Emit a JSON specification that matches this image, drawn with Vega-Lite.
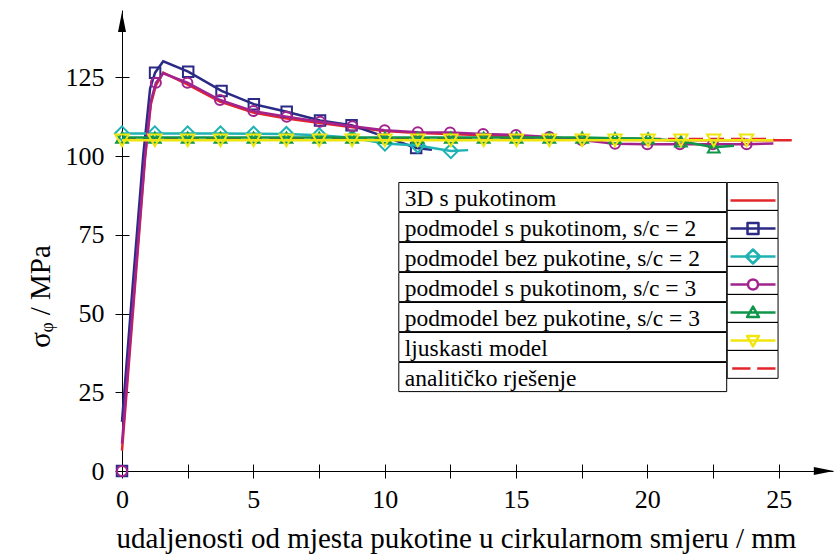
{
  "$schema": "https://vega.github.io/schema/vega-lite/v6.json",
  "width": 711,
  "height": 461,
  "autosize": {"type": "none"},
  "padding": {"left": 122, "top": 10, "right": 2, "bottom": 83},
  "background": "white",
  "config": {"view": {"stroke": null}},
  "resolve": {"scale": {"strokeDash": "independent"}, "legend": {"strokeDash": "independent"}},
  "datasets": {
    "names": [
      {"series": "3D s pukotinom"},
      {"series": "podmodel s pukotinom, s/c = 2"},
      {"series": "podmodel bez pukotine, s/c = 2"},
      {"series": "podmodel s pukotinom, s/c = 3"},
      {"series": "podmodel bez pukotine, s/c = 3"},
      {"series": "ljuskasti model"},
      {"series": "analitičko rješenje"}
    ],
    "curves": [
      {"series": "3D s pukotinom", "x": 0, "y": 6.5},
      {"series": "3D s pukotinom", "x": 0.44, "y": 53},
      {"series": "3D s pukotinom", "x": 0.88, "y": 99.5},
      {"series": "3D s pukotinom", "x": 1.1, "y": 116.5},
      {"series": "3D s pukotinom", "x": 1.29, "y": 122.5},
      {"series": "3D s pukotinom", "x": 1.57, "y": 126.5},
      {"series": "3D s pukotinom", "x": 2.49, "y": 122.8},
      {"series": "3D s pukotinom", "x": 3.73, "y": 117.3},
      {"series": "3D s pukotinom", "x": 5.0, "y": 113.8},
      {"series": "3D s pukotinom", "x": 6.27, "y": 111.9},
      {"series": "3D s pukotinom", "x": 7.54, "y": 110.5},
      {"series": "3D s pukotinom", "x": 8.77, "y": 109.2},
      {"series": "3D s pukotinom", "x": 10.0, "y": 108.0},
      {"series": "3D s pukotinom", "x": 11.26, "y": 107.3},
      {"series": "3D s pukotinom", "x": 12.49, "y": 107.0},
      {"series": "3D s pukotinom", "x": 13.75, "y": 106.6},
      {"series": "3D s pukotinom", "x": 15.0, "y": 106.2},
      {"series": "3D s pukotinom", "x": 16.27, "y": 105.8},
      {"series": "3D s pukotinom", "x": 17.5, "y": 105.5},
      {"series": "3D s pukotinom", "x": 18.77, "y": 105.2},
      {"series": "3D s pukotinom", "x": 20.0, "y": 105.1},
      {"series": "3D s pukotinom", "x": 22.5, "y": 105.0},
      {"series": "3D s pukotinom", "x": 25.5, "y": 105.0},
      {"series": "analitičko rješenje", "x": 0, "y": 105.4},
      {"series": "analitičko rješenje", "x": 24.8, "y": 105.4},
      {"series": "podmodel s pukotinom, s/c = 2", "x": 0, "y": 15.6},
      {"series": "podmodel s pukotinom, s/c = 2", "x": 0.4, "y": 58},
      {"series": "podmodel s pukotinom, s/c = 2", "x": 0.81, "y": 100.3},
      {"series": "podmodel s pukotinom, s/c = 2", "x": 1.07, "y": 121.5},
      {"series": "podmodel s pukotinom, s/c = 2", "x": 1.26, "y": 126.5},
      {"series": "podmodel s pukotinom, s/c = 2", "x": 1.57, "y": 130.1},
      {"series": "podmodel s pukotinom, s/c = 2", "x": 2.52, "y": 126.8},
      {"series": "podmodel s pukotinom, s/c = 2", "x": 3.79, "y": 120.7},
      {"series": "podmodel s pukotinom, s/c = 2", "x": 5.02, "y": 116.5},
      {"series": "podmodel s pukotinom, s/c = 2", "x": 6.27, "y": 114.1},
      {"series": "podmodel s pukotinom, s/c = 2", "x": 7.54, "y": 111.3},
      {"series": "podmodel s pukotinom, s/c = 2", "x": 8.74, "y": 109.8},
      {"series": "podmodel s pukotinom, s/c = 2", "x": 10.0, "y": 106.2},
      {"series": "podmodel s pukotinom, s/c = 2", "x": 11.2, "y": 102.6},
      {"series": "podmodel s pukotinom, s/c = 2", "x": 11.8, "y": 102.0},
      {"series": "podmodel bez pukotine, s/c = 2", "x": 0, "y": 107.2},
      {"series": "podmodel bez pukotine, s/c = 2", "x": 1.25, "y": 107.2},
      {"series": "podmodel bez pukotine, s/c = 2", "x": 2.5, "y": 107.2},
      {"series": "podmodel bez pukotine, s/c = 2", "x": 3.75, "y": 107.2},
      {"series": "podmodel bez pukotine, s/c = 2", "x": 5.01, "y": 107.1},
      {"series": "podmodel bez pukotine, s/c = 2", "x": 6.26, "y": 107.0},
      {"series": "podmodel bez pukotine, s/c = 2", "x": 7.51, "y": 106.6},
      {"series": "podmodel bez pukotine, s/c = 2", "x": 8.76, "y": 105.8},
      {"series": "podmodel bez pukotine, s/c = 2", "x": 10.01, "y": 104.0},
      {"series": "podmodel bez pukotine, s/c = 2", "x": 11.26, "y": 103.4},
      {"series": "podmodel bez pukotine, s/c = 2", "x": 12.52, "y": 101.6},
      {"series": "podmodel bez pukotine, s/c = 2", "x": 13.18, "y": 101.9},
      {"series": "podmodel s pukotinom, s/c = 3", "x": 0, "y": 8.7},
      {"series": "podmodel s pukotinom, s/c = 3", "x": 0.44, "y": 55},
      {"series": "podmodel s pukotinom, s/c = 3", "x": 0.88, "y": 100.5},
      {"series": "podmodel s pukotinom, s/c = 3", "x": 1.1, "y": 117.5},
      {"series": "podmodel s pukotinom, s/c = 3", "x": 1.29, "y": 123.3},
      {"series": "podmodel s pukotinom, s/c = 3", "x": 1.57, "y": 126.3},
      {"series": "podmodel s pukotinom, s/c = 3", "x": 2.49, "y": 123.3},
      {"series": "podmodel s pukotinom, s/c = 3", "x": 3.73, "y": 117.8},
      {"series": "podmodel s pukotinom, s/c = 3", "x": 5.0, "y": 114.3},
      {"series": "podmodel s pukotinom, s/c = 3", "x": 6.27, "y": 112.5},
      {"series": "podmodel s pukotinom, s/c = 3", "x": 7.54, "y": 110.9},
      {"series": "podmodel s pukotinom, s/c = 3", "x": 8.77, "y": 109.5},
      {"series": "podmodel s pukotinom, s/c = 3", "x": 10.0, "y": 108.2},
      {"series": "podmodel s pukotinom, s/c = 3", "x": 11.26, "y": 107.6},
      {"series": "podmodel s pukotinom, s/c = 3", "x": 12.49, "y": 107.5},
      {"series": "podmodel s pukotinom, s/c = 3", "x": 13.75, "y": 107.0},
      {"series": "podmodel s pukotinom, s/c = 3", "x": 15.0, "y": 106.7},
      {"series": "podmodel s pukotinom, s/c = 3", "x": 16.27, "y": 106.1},
      {"series": "podmodel s pukotinom, s/c = 3", "x": 17.5, "y": 105.1},
      {"series": "podmodel s pukotinom, s/c = 3", "x": 18.77, "y": 103.9},
      {"series": "podmodel s pukotinom, s/c = 3", "x": 20.0, "y": 103.8},
      {"series": "podmodel s pukotinom, s/c = 3", "x": 21.24, "y": 103.8},
      {"series": "podmodel s pukotinom, s/c = 3", "x": 22.5, "y": 103.8},
      {"series": "podmodel s pukotinom, s/c = 3", "x": 23.78, "y": 103.8},
      {"series": "podmodel s pukotinom, s/c = 3", "x": 24.8, "y": 104.0},
      {"series": "podmodel bez pukotine, s/c = 3", "x": 0, "y": 105.9},
      {"series": "podmodel bez pukotine, s/c = 3", "x": 17.52, "y": 105.9},
      {"series": "podmodel bez pukotine, s/c = 3", "x": 18.77, "y": 105.7},
      {"series": "podmodel bez pukotine, s/c = 3", "x": 20.03, "y": 105.6},
      {"series": "podmodel bez pukotine, s/c = 3", "x": 21.28, "y": 104.7},
      {"series": "podmodel bez pukotine, s/c = 3", "x": 22.53, "y": 102.8},
      {"series": "podmodel bez pukotine, s/c = 3", "x": 23.3, "y": 103.3},
      {"series": "ljuskasti model", "x": 0, "y": 105.0},
      {"series": "ljuskasti model", "x": 24.8, "y": 105.0}
    ],
    "markers": [
      {"series": "podmodel s pukotinom, s/c = 2", "x": 0, "y": 0},
      {"series": "podmodel s pukotinom, s/c = 2", "x": 1.26, "y": 126.5},
      {"series": "podmodel s pukotinom, s/c = 2", "x": 2.52, "y": 126.8},
      {"series": "podmodel s pukotinom, s/c = 2", "x": 3.79, "y": 120.7},
      {"series": "podmodel s pukotinom, s/c = 2", "x": 5.02, "y": 116.5},
      {"series": "podmodel s pukotinom, s/c = 2", "x": 6.27, "y": 114.1},
      {"series": "podmodel s pukotinom, s/c = 2", "x": 7.54, "y": 111.3},
      {"series": "podmodel s pukotinom, s/c = 2", "x": 8.74, "y": 109.8},
      {"series": "podmodel s pukotinom, s/c = 2", "x": 11.2, "y": 102.6},
      {"series": "podmodel bez pukotine, s/c = 2", "x": 0, "y": 107.2},
      {"series": "podmodel bez pukotine, s/c = 2", "x": 1.25, "y": 107.2},
      {"series": "podmodel bez pukotine, s/c = 2", "x": 2.5, "y": 107.2},
      {"series": "podmodel bez pukotine, s/c = 2", "x": 3.75, "y": 107.2},
      {"series": "podmodel bez pukotine, s/c = 2", "x": 5.01, "y": 107.1},
      {"series": "podmodel bez pukotine, s/c = 2", "x": 6.26, "y": 107.0},
      {"series": "podmodel bez pukotine, s/c = 2", "x": 7.51, "y": 106.6},
      {"series": "podmodel bez pukotine, s/c = 2", "x": 8.76, "y": 105.8},
      {"series": "podmodel bez pukotine, s/c = 2", "x": 10.01, "y": 104.0},
      {"series": "podmodel bez pukotine, s/c = 2", "x": 11.26, "y": 103.4},
      {"series": "podmodel bez pukotine, s/c = 2", "x": 12.52, "y": 101.6},
      {"series": "podmodel s pukotinom, s/c = 3", "x": 0, "y": 0},
      {"series": "podmodel s pukotinom, s/c = 3", "x": 1.29, "y": 123.3},
      {"series": "podmodel s pukotinom, s/c = 3", "x": 2.49, "y": 123.3},
      {"series": "podmodel s pukotinom, s/c = 3", "x": 3.73, "y": 117.8},
      {"series": "podmodel s pukotinom, s/c = 3", "x": 5.0, "y": 114.3},
      {"series": "podmodel s pukotinom, s/c = 3", "x": 6.27, "y": 112.5},
      {"series": "podmodel s pukotinom, s/c = 3", "x": 7.54, "y": 110.9},
      {"series": "podmodel s pukotinom, s/c = 3", "x": 8.77, "y": 109.5},
      {"series": "podmodel s pukotinom, s/c = 3", "x": 10.0, "y": 108.2},
      {"series": "podmodel s pukotinom, s/c = 3", "x": 11.26, "y": 107.6},
      {"series": "podmodel s pukotinom, s/c = 3", "x": 12.49, "y": 107.5},
      {"series": "podmodel s pukotinom, s/c = 3", "x": 13.75, "y": 107.0},
      {"series": "podmodel s pukotinom, s/c = 3", "x": 15.0, "y": 106.7},
      {"series": "podmodel s pukotinom, s/c = 3", "x": 16.27, "y": 106.1},
      {"series": "podmodel s pukotinom, s/c = 3", "x": 17.5, "y": 105.1},
      {"series": "podmodel s pukotinom, s/c = 3", "x": 18.77, "y": 103.9},
      {"series": "podmodel s pukotinom, s/c = 3", "x": 20.0, "y": 103.8},
      {"series": "podmodel s pukotinom, s/c = 3", "x": 21.24, "y": 103.8},
      {"series": "podmodel s pukotinom, s/c = 3", "x": 22.5, "y": 103.8},
      {"series": "podmodel s pukotinom, s/c = 3", "x": 23.78, "y": 103.8},
      {"series": "podmodel bez pukotine, s/c = 3", "x": 0, "y": 105.9},
      {"series": "podmodel bez pukotine, s/c = 3", "x": 1.25, "y": 105.9},
      {"series": "podmodel bez pukotine, s/c = 3", "x": 2.5, "y": 105.9},
      {"series": "podmodel bez pukotine, s/c = 3", "x": 3.75, "y": 105.9},
      {"series": "podmodel bez pukotine, s/c = 3", "x": 5.01, "y": 105.9},
      {"series": "podmodel bez pukotine, s/c = 3", "x": 6.26, "y": 105.9},
      {"series": "podmodel bez pukotine, s/c = 3", "x": 7.51, "y": 105.9},
      {"series": "podmodel bez pukotine, s/c = 3", "x": 8.76, "y": 105.9},
      {"series": "podmodel bez pukotine, s/c = 3", "x": 10.01, "y": 105.9},
      {"series": "podmodel bez pukotine, s/c = 3", "x": 11.26, "y": 105.9},
      {"series": "podmodel bez pukotine, s/c = 3", "x": 12.52, "y": 105.9},
      {"series": "podmodel bez pukotine, s/c = 3", "x": 13.77, "y": 105.9},
      {"series": "podmodel bez pukotine, s/c = 3", "x": 15.02, "y": 105.9},
      {"series": "podmodel bez pukotine, s/c = 3", "x": 16.27, "y": 105.9},
      {"series": "podmodel bez pukotine, s/c = 3", "x": 17.52, "y": 105.9},
      {"series": "podmodel bez pukotine, s/c = 3", "x": 18.77, "y": 105.7},
      {"series": "podmodel bez pukotine, s/c = 3", "x": 20.03, "y": 105.6},
      {"series": "podmodel bez pukotine, s/c = 3", "x": 21.28, "y": 104.7},
      {"series": "podmodel bez pukotine, s/c = 3", "x": 22.53, "y": 102.8},
      {"series": "ljuskasti model", "x": 0, "y": 105.0},
      {"series": "ljuskasti model", "x": 1.25, "y": 105.0},
      {"series": "ljuskasti model", "x": 2.5, "y": 105.0},
      {"series": "ljuskasti model", "x": 3.75, "y": 105.0},
      {"series": "ljuskasti model", "x": 5.01, "y": 105.0},
      {"series": "ljuskasti model", "x": 6.26, "y": 105.0},
      {"series": "ljuskasti model", "x": 7.51, "y": 105.0},
      {"series": "ljuskasti model", "x": 8.76, "y": 105.0},
      {"series": "ljuskasti model", "x": 10.01, "y": 105.0},
      {"series": "ljuskasti model", "x": 11.26, "y": 105.0},
      {"series": "ljuskasti model", "x": 12.52, "y": 105.0},
      {"series": "ljuskasti model", "x": 13.77, "y": 105.0},
      {"series": "ljuskasti model", "x": 15.02, "y": 105.0},
      {"series": "ljuskasti model", "x": 16.27, "y": 105.0},
      {"series": "ljuskasti model", "x": 17.52, "y": 105.0},
      {"series": "ljuskasti model", "x": 18.77, "y": 105.0},
      {"series": "ljuskasti model", "x": 20.03, "y": 105.0},
      {"series": "ljuskasti model", "x": 21.28, "y": 105.0},
      {"series": "ljuskasti model", "x": 22.53, "y": 105.0},
      {"series": "ljuskasti model", "x": 23.78, "y": 105.0}
    ]
  },
  "layer": [
    {
      "data": {"name": "curves"},
      "transform": [{"filter": {"field": "series", "equal": "3D s pukotinom"}}],
      "mark": {"type": "line", "strokeWidth": 2.5},
      "encoding": {
        "x": {
          "field": "x", "type": "quantitative",
          "scale": {"domain": [0, 27.07], "nice": false, "zero": false},
          "axis": {
            "values": [0, 2.5, 5, 7.5, 10, 12.5, 15, 17.5, 20, 22.5, 25],
            "labelExpr": "datum.value % 5 === 0 ? datum.label : ''",
            "title": "udaljenosti od mjesta pukotine u cirkularnom smjeru / mm",
            "titleFont": "Liberation Serif", "titleFontSize": 29, "titleFontWeight": "normal", "titleColor": "black",
            "titleX": 334, "titleY": 76, "titleBaseline": "alphabetic", "titleAlign": "center",
            "labelFont": "Liberation Serif", "labelFontSize": 26, "labelColor": "black", "labelPadding": 8,
            "labelFlush": false, "labelOverlap": false,
            "tickSize": 7, "tickColor": "black", "tickWidth": 1,
            "domainColor": "black", "domainWidth": 1, "grid": false,
            "encoding": {"ticks": {"y": {"value": -7}, "y2": {"value": 7}}}
          }
        },
        "y": {
          "field": "y", "type": "quantitative",
          "scale": {"domain": [0, 146.4], "nice": false, "zero": false},
          "axis": {
            "values": [0, 25, 50, 75, 100, 125],
            "title": "σᵩ / MPa",
            "titleFont": "Liberation Serif", "titleFontSize": 29, "titleFontWeight": "normal", "titleColor": "black",
            "titleX": -82, "titleY": 286, "titleAngle": -90, "titleBaseline": "middle", "titleAlign": "center",
            "labelFont": "Liberation Serif", "labelFontSize": 26, "labelColor": "black", "labelPadding": 11,
            "labelFlush": false, "labelOverlap": false,
            "tickSize": 7, "tickColor": "black", "tickWidth": 1,
            "domainColor": "black", "domainWidth": 1, "grid": false,
            "encoding": {"ticks": {"x": {"value": 7}, "x2": {"value": -7}}}
          }
        },
        "color": {
          "field": "series", "type": "nominal", "legend": null,
          "scale": {
            "domain": ["3D s pukotinom", "podmodel s pukotinom, s/c = 2", "podmodel bez pukotine, s/c = 2", "podmodel s pukotinom, s/c = 3", "podmodel bez pukotine, s/c = 3", "ljuskasti model", "analitičko rješenje"],
            "range": ["#e2262b", "#2b2a84", "#1fb2b4", "#a3238e", "#10964a", "#f0e60f", "#e2262b"]
          }
        }
      }
    },
    {
      "data": {"name": "curves"},
      "transform": [{"filter": {"field": "series", "equal": "analitičko rješenje"}}],
      "mark": {"type": "line", "strokeWidth": 2.5, "strokeDash": [14, 7]},
      "encoding": {"x": {"field": "x", "type": "quantitative"}, "y": {"field": "y", "type": "quantitative"}, "color": {"field": "series", "type": "nominal", "legend": null}}
    },
    {
      "data": {"name": "curves"},
      "transform": [{"filter": {"field": "series", "equal": "podmodel s pukotinom, s/c = 2"}}],
      "mark": {"type": "line", "strokeWidth": 2.5},
      "encoding": {"x": {"field": "x", "type": "quantitative"}, "y": {"field": "y", "type": "quantitative"}, "color": {"field": "series", "type": "nominal", "legend": null}}
    },
    {
      "data": {"name": "markers"},
      "transform": [{"filter": {"field": "series", "equal": "podmodel s pukotinom, s/c = 2"}}],
      "mark": {"type": "point", "shape": "square", "size": 110, "strokeWidth": 2, "filled": false, "opacity": 1},
      "encoding": {"x": {"field": "x", "type": "quantitative"}, "y": {"field": "y", "type": "quantitative"}, "color": {"field": "series", "type": "nominal", "legend": null}}
    },
    {
      "data": {"name": "curves"},
      "transform": [{"filter": {"field": "series", "equal": "podmodel bez pukotine, s/c = 2"}}],
      "mark": {"type": "line", "strokeWidth": 2.5},
      "encoding": {"x": {"field": "x", "type": "quantitative"}, "y": {"field": "y", "type": "quantitative"}, "color": {"field": "series", "type": "nominal", "legend": null}}
    },
    {
      "data": {"name": "markers"},
      "transform": [{"filter": {"field": "series", "equal": "podmodel bez pukotine, s/c = 2"}}],
      "mark": {"type": "point", "shape": "diamond", "size": 200, "strokeWidth": 2, "filled": false, "opacity": 1},
      "encoding": {"x": {"field": "x", "type": "quantitative"}, "y": {"field": "y", "type": "quantitative"}, "color": {"field": "series", "type": "nominal", "legend": null}}
    },
    {
      "data": {"name": "curves"},
      "transform": [{"filter": {"field": "series", "equal": "podmodel s pukotinom, s/c = 3"}}],
      "mark": {"type": "line", "strokeWidth": 2.5},
      "encoding": {"x": {"field": "x", "type": "quantitative"}, "y": {"field": "y", "type": "quantitative"}, "color": {"field": "series", "type": "nominal", "legend": null}}
    },
    {
      "data": {"name": "markers"},
      "transform": [{"filter": {"field": "series", "equal": "podmodel s pukotinom, s/c = 3"}}],
      "mark": {"type": "point", "shape": "circle", "size": 100, "strokeWidth": 2, "filled": false, "opacity": 1},
      "encoding": {"x": {"field": "x", "type": "quantitative"}, "y": {"field": "y", "type": "quantitative"}, "color": {"field": "series", "type": "nominal", "legend": null}}
    },
    {
      "data": {"name": "curves"},
      "transform": [{"filter": {"field": "series", "equal": "podmodel bez pukotine, s/c = 3"}}],
      "mark": {"type": "line", "strokeWidth": 2.5},
      "encoding": {"x": {"field": "x", "type": "quantitative"}, "y": {"field": "y", "type": "quantitative"}, "color": {"field": "series", "type": "nominal", "legend": null}}
    },
    {
      "data": {"name": "markers"},
      "transform": [{"filter": {"field": "series", "equal": "podmodel bez pukotine, s/c = 3"}}],
      "mark": {"type": "point", "shape": "triangle-up", "size": 140, "strokeWidth": 2, "filled": false, "opacity": 1},
      "encoding": {"x": {"field": "x", "type": "quantitative"}, "y": {"field": "y", "type": "quantitative"}, "color": {"field": "series", "type": "nominal", "legend": null}}
    },
    {
      "data": {"name": "curves"},
      "transform": [{"filter": {"field": "series", "equal": "ljuskasti model"}}],
      "mark": {"type": "line", "strokeWidth": 2.5},
      "encoding": {"x": {"field": "x", "type": "quantitative"}, "y": {"field": "y", "type": "quantitative"}, "color": {"field": "series", "type": "nominal", "legend": null}}
    },
    {
      "data": {"name": "markers"},
      "transform": [{"filter": {"field": "series", "equal": "ljuskasti model"}}],
      "mark": {"type": "point", "shape": "triangle-down", "size": 180, "strokeWidth": 2, "filled": false, "opacity": 1},
      "encoding": {"x": {"field": "x", "type": "quantitative"}, "y": {"field": "y", "type": "quantitative"}, "color": {"field": "series", "type": "nominal", "legend": null}}
    },
    {
      "data": {"name": "names"},
      "mark": {"type": "point", "opacity": 0},
      "encoding": {
        "strokeDash": {
          "field": "series", "type": "nominal", "sort": null,
          "legend": {
            "orient": "none", "legendX": 276.3, "legendY": 172, "title": null, "padding": 0, "rowPadding": 0,
            "labelFont": "Liberation Serif", "labelFontSize": 23.5, "labelColor": "black", "labelLimit": 0,
            "symbolOpacity": 0, "symbolStrokeWidth": 0, "symbolSize": 106537,
            "symbolType": "M-1,-0.08456L1,-0.08456L1,0.08456L-1,0.08456Z",
            "encoding": {
              "entries": {"stroke": {"value": "black"}, "strokeWidth": {"value": 1}, "width": {"value": 328.4}, "height": {"value": 29.6}},
              "symbols": {"x": {"value": 164.2}, "y": {"value": 14.8}, "shape": {"value": "M-1,-0.08456L1,-0.08456L1,0.08456L-1,0.08456Z"}, "size": {"value": 106537}, "opacity": {"value": 0}, "strokeWidth": {"value": 0}},
              "labels": {"x": {"value": 6.5}, "y": {"value": 24}, "baseline": {"value": "alphabetic"}}
            }
          }
        }
      }
    },
    {
      "data": {"name": "names"},
      "mark": {"type": "point", "opacity": 0},
      "encoding": {
        "shape": {
          "field": "series", "type": "nominal", "sort": null,
          "scale": {
            "range": [
              "M-1,-0.658M1,0.333M-0.987,0L0.987,0",
              "M-1,-0.658M1,0.333M-0.987,0L0.987,0M-0.241,-0.241L0.241,-0.241L0.241,0.241L-0.241,0.241Z",
              "M-1,-0.658M1,0.333M-0.987,0L0.987,0M0,-0.307L0.307,0L0,0.307L-0.307,0Z",
              "M-1,-0.658M1,0.333M-0.987,0L-0.219,0M0.219,0L0.987,0M-0.219,0A0.219,0.219,0,1,0,0.219,0A0.219,0.219,0,1,0,-0.219,0Z",
              "M-1,-0.658M1,0.333M-0.987,0L0.987,0M0,-0.26L0.26,0.2L-0.26,0.2Z",
              "M-1,-0.658M1,0.333M-0.987,0L0.987,0M-0.26,-0.2L0.26,-0.2L0,0.26Z",
              "M-1,-0.658M1,0.333M-0.912,0L-0.11,0M0.184,0L0.987,0"
            ]
          },
          "legend": {
            "orient": "none", "legendX": 604.7, "legendY": 172, "title": null, "padding": 0, "rowPadding": 0,
            "labelExpr": "''", "labelFontSize": 1, "symbolSize": 2079, "symbolStrokeWidth": 2.5, "symbolOpacity": 1, "symbolFillColor": "transparent",
            "encoding": {
              "entries": {"stroke": {"value": "black"}, "strokeWidth": {"value": 1}, "width": {"value": 52.6}, "height": {"value": 29.6}},
              "symbols": {"x": {"value": 26.3}, "y": {"value": 18.5}, "size": {"value": 2079}, "strokeJoin": {"value": "round"}, "stroke": {"value": {"expr": "scale('color', datum.value)"}}},
              "labels": {"x": {"value": 10}, "y": {"value": 14}}
            }
          }
        }
      }
    },
    {
      "data": {"values": [{}]},
      "mark": {"type": "point", "shape": "M0,-1L0.4,1L-0.4,1Z", "size": 400, "filled": true, "color": "black", "opacity": 1},
      "encoding": {"x": {"datum": 0, "type": "quantitative"}, "y": {"datum": 142.6, "type": "quantitative"}}
    },
    {
      "data": {"values": [{}]},
      "mark": {"type": "point", "shape": "M1,0L-1,0.4L-1,-0.4Z", "size": 400, "filled": true, "color": "black", "opacity": 1},
      "encoding": {"x": {"datum": 26.72, "type": "quantitative"}, "y": {"datum": 0, "type": "quantitative"}}
    }
  ]
}
